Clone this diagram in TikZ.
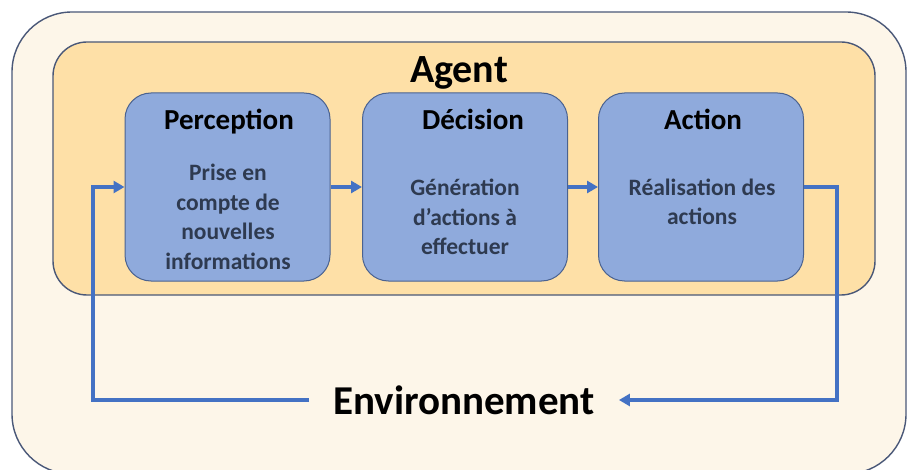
\documentclass[tikz,border=0pt]{standalone}
\usepackage{fontspec}
\setmainfont{Carlito}
\usepackage{xcolor}
\usetikzlibrary{positioning,calc,arrows.meta}

\definecolor{envfill}{HTML}{FDF6E9}
\definecolor{envline}{HTML}{4A5878}
\definecolor{agentfill}{HTML}{FEE0A7}
\definecolor{boxfill}{HTML}{8FAADC}
\definecolor{boxline}{HTML}{4A6290}
\definecolor{flowblue}{HTML}{4472C4}
\definecolor{bodytext}{HTML}{2E3A50}

\tikzset{
    stage/.style={draw=boxline, line width=1pt, fill=boxfill, rounded corners=26pt,
        minimum width=205pt, minimum height=188pt},
    stagetitle/.style={font=\bfseries\fontsize{29}{34}\selectfont, anchor=base},
    stagebody/.style={font=\bfseries\fontsize{23.5}{29.5}\selectfont, text=bodytext, align=center},
    flow/.style={-{Triangle[length=11pt,width=12pt]}, draw=flowblue, line width=3.5pt},
}

\begin{document}
\begin{tikzpicture}[x=1pt, y=-1pt]
    \useasboundingbox (0,0) rectangle (907,470);
    % frames
    \draw [envline, line width=1.4pt, fill=envfill, rounded corners=60pt] (12,12) rectangle (906,474);
    \draw [envline, line width=1.4pt, fill=agentfill, rounded corners=34pt] (53,42) rectangle (875,295);
    \node [font=\bfseries\fontsize{40}{48}\selectfont, anchor=base] (agent) at (459,83) {Agent};

    \node [stage] (perc) at (227.5,187) {};
    \node [stage] (dec) at (465,187) {};
    \node [stage] (act) at (701,187) {};

    \node [stagetitle] (perctitle) at (229,130) {Perception};
    \node [stagetitle] (dectitle) at (473,130) {Décision};
    \node [stagetitle] (acttitle) at (703,130) {Action};

    \node [stagebody] (percbody) at (228,217) {Prise en\\compte de\\nouvelles\\informations};
    \node [stagebody] (decbody) at (465,217) {Génération\\d’actions à\\effectuer};
    \node [stagebody] (actbody) at (702,202) {Réalisation des\\actions};

    \node [font=\bfseries\fontsize{41}{49}\selectfont, inner xsep=24pt] (env) at (464,400) {Environnement};

    \coordinate (back) at (93,187);
    \coordinate (out) at (837,187);

    \draw [flow] (perc) -- (dec);
    \draw [flow] (dec) -- (act);
    \draw [flow] (act.east) -- (out) |- (env.east);
    \draw [flow] (env.west) -| (back) -- (perc.west);
\end{tikzpicture}
\end{document}
